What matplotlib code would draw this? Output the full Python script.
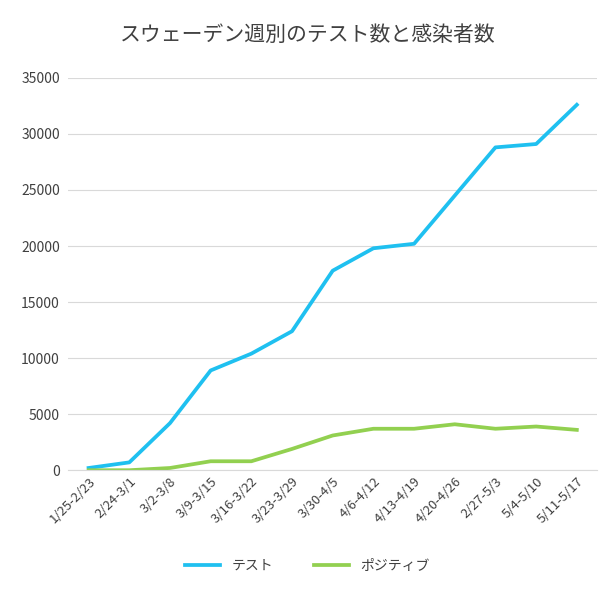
import matplotlib.pyplot as plt

plt.rcParams['font.family'] = ['Noto Sans CJK JP']

weeks = ['1/25-2/23', '2/24-3/1', '3/2-3/8', '3/9-3/15', '3/16-3/22', '3/23-3/29',
         '3/30-4/5', '4/6-4/12', '4/13-4/19', '4/20-4/26', '2/27-5/3', '5/4-5/10', '5/11-5/17']
tests = [200, 700, 4200, 8900, 10400, 12400, 17800, 19800, 20200, 24500, 28800, 29100, 32600]
positives = [0, 0, 200, 800, 800, 1900, 3100, 3700, 3700, 4100, 3700, 3900, 3600]

fig = plt.figure(figsize=(6.15, 5.9), dpi=100)
ax = fig.add_axes([0.111, 0.203, 0.86, 0.665])
x = range(len(weeks))
ax.plot(x, tests, color='#1fc0f0', lw=2.7, label='テスト')
ax.plot(x, positives, color='#92d050', lw=2.7, label='ポジティブ')
ax.set_xlim(-0.5, len(weeks) - 0.5)
ax.set_ylim(0, 35000)
ax.set_yticks(range(0, 35001, 5000))
ax.set_xticks(list(x))
ax.set_xticklabels(weeks, rotation=45, ha='right', rotation_mode='anchor', fontsize=9.5, color='#404040')
ax.tick_params(axis='y', labelsize=10, colors='#404040', length=0, pad=6)
ax.tick_params(axis='x', length=0)
ax.grid(axis='y', color='#d9d9d9', lw=0.8)
ax.set_axisbelow(True)
for s in ['top', 'right', 'left']:
    ax.spines[s].set_visible(False)
ax.spines['bottom'].set_color('#d9d9d9')
fig.suptitle('スウェーデン週別のテスト数と感染者数', x=0.5, y=0.96, fontsize=15, color='#404040')
fig.legend(loc='lower center', ncol=2, frameon=False, fontsize=10, bbox_to_anchor=(0.5, 0.008),
           labelcolor='#404040', handlelength=2.5, columnspacing=3)
fig.savefig('out.png')
